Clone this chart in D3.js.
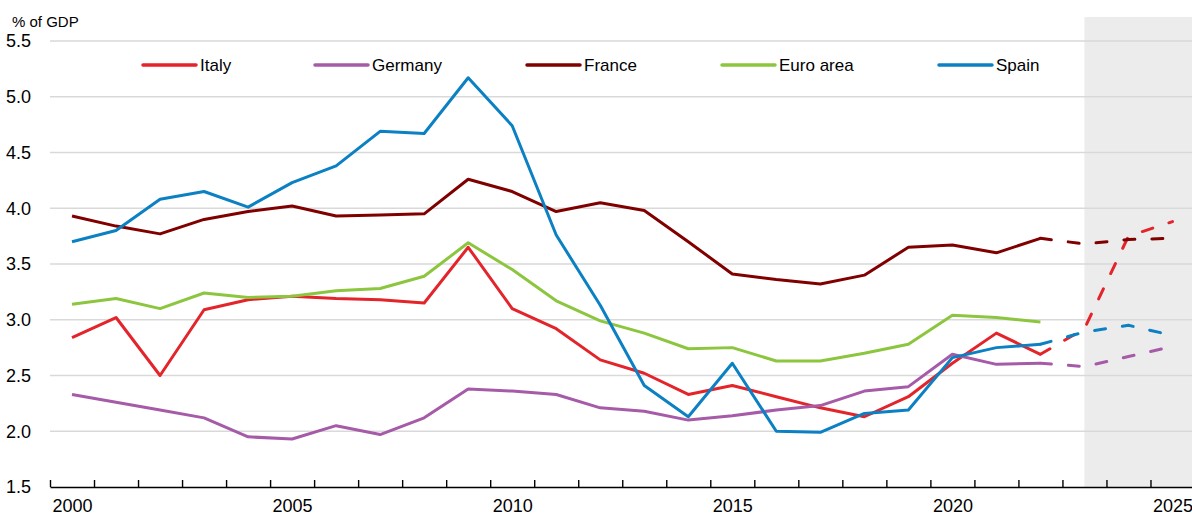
<!DOCTYPE html>
<html>
<head>
<meta charset="utf-8">
<script src="https://cdn.jsdelivr.net/npm/d3@7"></script>
<style>
  body { margin: 0; background: #fff; }
  svg { display: block; font-family: "Liberation Sans", Arial, sans-serif; }
</style>
</head>
<body>
<svg id="chart" width="1192" height="513"></svg>
<script>
// ---------- DATA ----------
const years = [2000,2001,2002,2003,2004,2005,2006,2007,2008,2009,2010,2011,2012,2013,2014,2015,2016,2017,2018,2019,2020,2021,2022];
const italy    = [2.84,3.02,2.50,3.09,3.18,3.21,3.19,3.18,3.15,3.65,3.10,2.92,2.64,2.52,2.33,2.41,2.31,2.21,2.13,2.31,2.61,2.88,2.69];
const germany  = [2.33,2.26,2.19,2.12,1.95,1.93,2.05,1.97,2.12,2.38,2.36,2.33,2.21,2.18,2.10,2.14,2.19,2.23,2.36,2.40,2.69,2.60,2.61];
const france   = [3.93,3.84,3.77,3.90,3.97,4.02,3.93,3.94,3.95,4.26,4.15,3.97,4.05,3.98,3.70,3.41,3.36,3.32,3.40,3.65,3.67,3.60,3.73];
const euroArea = [3.14,3.19,3.10,3.24,3.20,3.21,3.26,3.28,3.39,3.69,3.45,3.17,2.99,2.88,2.74,2.75,2.63,2.63,2.70,2.78,3.04,3.02,2.98];
const spain    = [3.70,3.80,4.08,4.15,4.01,4.23,4.38,4.69,4.67,5.17,4.74,3.76,3.13,2.41,2.13,2.61,2.00,1.99,2.16,2.19,2.66,2.75,2.78];

const projYears   = [2022,2023,2024,2025];
const italyProj   = [2.69,2.92,3.75,3.88];
const germanyProj = [2.61,2.58,2.67,2.76];
const franceProj  = [3.73,3.68,3.72,3.73];
const spainProj   = [2.78,2.89,2.95,2.86];

const yTicks = [1.5,2.0,2.5,3.0,3.5,4.0,4.5,5.0,5.5];
const xLabelYears = [2000,2005,2010,2015,2020,2025];
const forecastStart = 2023;
const yUnit = "% of GDP";

const seriesNames  = ["Italy","Germany","France","Euro area","Spain"];
const seriesColors = ["#e3242b","#a65ba8","#800000","#8cc63f","#0b80c3"];

// ---------- LAYOUT ----------
const svg = d3.select("#chart");
const W = 1192;
const x = d3.scaleLinear().domain([1999.5, 2025.5]).range([50, 1194.5]);
const y = d3.scaleLinear().domain([1.5, 5.5]).range([487, 41]);

// forecast shading
svg.append("rect")
  .attr("x", x(forecastStart))
  .attr("y", 17)
  .attr("width", W - x(forecastStart))
  .attr("height", y(1.5) - 17)
  .attr("fill", "#ececec");

// gridlines
svg.append("g").selectAll("line")
  .data(yTicks.filter(v => v > 1.5))
  .join("line")
  .attr("x1", 50).attr("x2", W)
  .attr("y1", d => y(d)).attr("y2", d => y(d))
  .attr("stroke", "#d9d9d9").attr("stroke-width", 1.5);

// y axis labels
const gy = svg.append("g").attr("transform", "translate(50,0)")
  .call(d3.axisLeft(y).tickValues(yTicks).tickFormat(d3.format(".1f")).tickSize(0).tickPadding(19));
gy.select(".domain").remove();
gy.selectAll("text").attr("font-size", 18).attr("fill", "#000").attr("font-family", "Liberation Sans, Arial, sans-serif");

svg.append("text").attr("x", 12).attr("y", 27)
  .attr("font-size", 15).attr("fill", "#000").text(yUnit);

// x axis: boundary ticks
const bounds = d3.range(1999.5, 2025, 1);
const gx = svg.append("g").attr("transform", `translate(0,${y(1.5)})`)
  .call(d3.axisBottom(x).tickValues(bounds).tickSizeInner(-7).tickSizeOuter(0).tickFormat(""));
gx.select(".domain").attr("stroke", "#000").attr("stroke-width", 1.6);
gx.selectAll(".tick line").attr("stroke", "#000").attr("stroke-width", 1.4);

const gxl = svg.append("g").attr("transform", `translate(0,${y(1.5)})`)
  .call(d3.axisBottom(x).tickValues(xLabelYears).tickSize(0).tickPadding(12).tickFormat(d3.format("d")));
gxl.select(".domain").remove();
gxl.selectAll("text").attr("font-size", 18).attr("fill", "#000").attr("font-family", "Liberation Sans, Arial, sans-serif");

// lines
const line = d3.line().x(d => x(d[0])).y(d => y(d[1]));
const solid = [italy, germany, france, euroArea, spain];
const proj  = [italyProj, germanyProj, franceProj, null, spainProj];

const gl = svg.append("g");
solid.forEach((vals, i) => {
  if (proj[i]) {
    gl.append("path")
      .datum(projYears.map((yr, j) => [yr, proj[i][j]]))
      .attr("d", line).attr("fill", "none")
      .attr("stroke", seriesColors[i]).attr("stroke-width", 3)
      .attr("stroke-linecap", "round").attr("stroke-linejoin", "round")
      .attr("stroke-dasharray", "11,17");
  }
  gl.append("path")
    .datum(years.map((yr, j) => [yr, vals[j]]))
    .attr("d", line).attr("fill", "none")
    .attr("stroke", seriesColors[i]).attr("stroke-width", 3)
    .attr("stroke-linejoin", "round").attr("stroke-linecap", "butt");
});

// legend
const legendX = [143, 315, 527, 722, 939];
const lg = svg.append("g");
seriesNames.forEach((name, i) => {
  lg.append("line")
    .attr("x1", legendX[i]).attr("x2", legendX[i] + 53)
    .attr("y1", 65).attr("y2", 65)
    .attr("stroke", seriesColors[i]).attr("stroke-width", 3.5)
    .attr("stroke-linecap", "round");
  lg.append("text")
    .attr("x", legendX[i] + 57).attr("y", 65).attr("dy", "0.35em")
    .attr("font-size", 17).attr("fill", "#000").text(name);
});
</script>
</body>
</html>
